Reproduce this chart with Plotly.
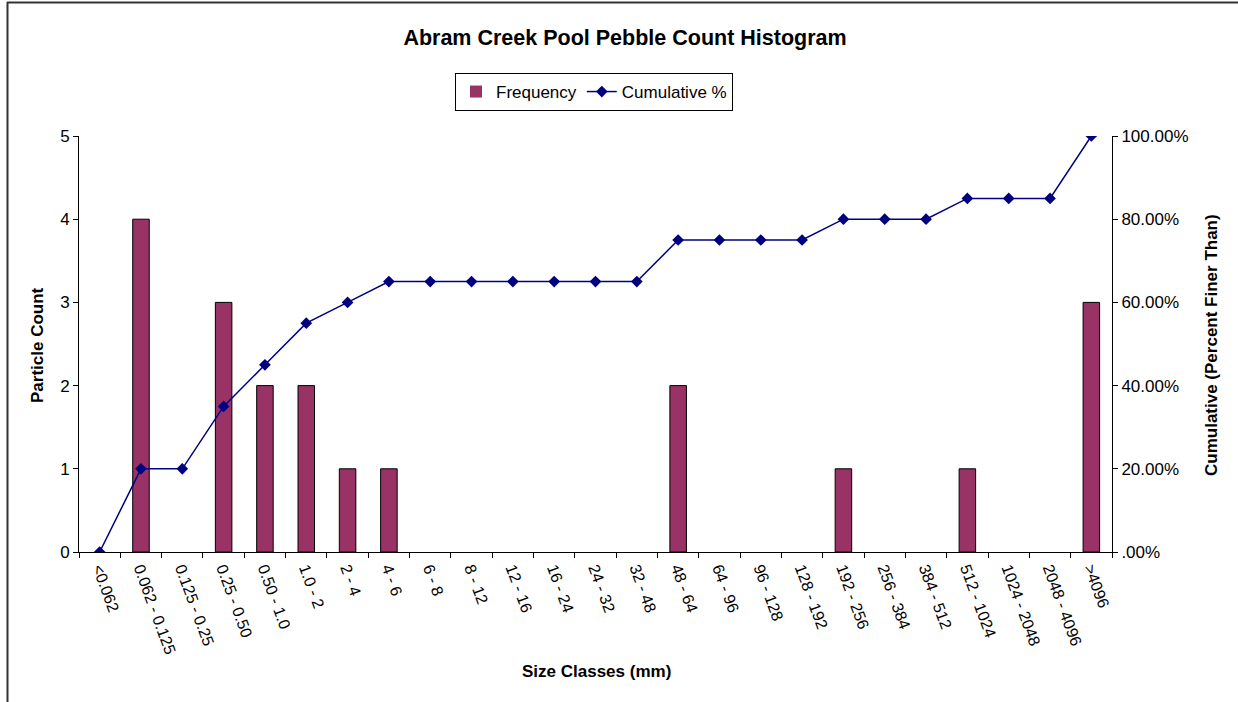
import plotly.graph_objects as go

categories = ["<0.062", "0.062 - 0.125", "0.125 - 0.25", "0.25 - 0.50", "0.50 - 1.0",
              "1.0 - 2", "2 - 4", "4 - 6", "6 - 8", "8 - 12", "12 - 16", "16 - 24",
              "24 - 32", "32 - 48", "48 - 64", "64 - 96", "96 - 128", "128 - 192",
              "192 - 256", "256 - 384", "384 - 512", "512 - 1024", "1024 - 2048",
              "2048 - 4096", ">4096"]
frequency = [0, 4, 0, 3, 2, 2, 1, 1, 0, 0, 0, 0, 0, 0, 2, 0, 0, 0, 1, 0, 0, 1, 0, 0, 3]
cumulative_pct = [0, 20, 20, 35, 45, 55, 60, 65, 65, 65, 65, 65, 65, 65, 75, 75, 75, 75,
                  80, 80, 80, 85, 85, 85, 100]
y2_tickvals = [0, 20, 40, 60, 80, 100]
y2_ticktext = [".00%", "20.00%", "40.00%", "60.00%", "80.00%", "100.00%"]

FONT = "Liberation Sans, Arial, sans-serif"
W, H = 1238, 702
L, R, T, B = 79, 126, 136, 150
PW, PH = W - L - R, H - T - B

def px(x):
    return (x - L) / PW

def py(y):
    return (H - B - y) / PH

# hide outline on empty (zero-count) bars
bar_line_widths = [1 if v > 0 else 0 for v in frequency]

fig = go.Figure()
fig.add_trace(go.Bar(
    x=categories, y=frequency, name="Frequency",
    marker=dict(color="#993366", line=dict(color="black", width=bar_line_widths)),
    yaxis="y",
))
fig.add_trace(go.Scatter(
    x=categories, y=cumulative_pct, name="Cumulative %",
    mode="lines+markers",
    line=dict(color="#000080", width=1.5),
    marker=dict(symbol="diamond", size=9, color="#000080"),
    yaxis="y2",
))

fig.update_layout(
    width=W, height=H,
    margin=dict(l=L, r=R, t=T, b=B, autoexpand=False),
    paper_bgcolor="white", plot_bgcolor="white",
    font=dict(family=FONT, size=16, color="black"),
    bargap=0.6,
    showlegend=True,
    title=dict(text="<b>Abram Creek Pool Pebble Count Histogram</b>",
               x=625 / W, xanchor="center", y=1 - 37 / H, yanchor="middle",
               font=dict(family=FONT, size=21.5, color="black")),
    legend=dict(orientation="h", x=px(594), xanchor="center", y=py(73), yanchor="top",
                bordercolor="black", borderwidth=1, bgcolor="white",
                font=dict(family=FONT, size=17, color="black")),
    xaxis=dict(type="category", showline=True, linecolor="black", linewidth=1,
               ticks="outside", ticklen=5, tickcolor="black", tickson="boundaries",
               tickangle=70, showgrid=False, zeroline=False,
               tickfont=dict(family=FONT, size=16), range=[-0.5, 24.5]),
    yaxis=dict(range=[0, 5], dtick=1, showline=True, linecolor="black", linewidth=1,
               ticks="outside", ticklen=5, tickcolor="black", showgrid=False,
               zeroline=False, tickfont=dict(family=FONT, size=17)),
    yaxis2=dict(range=[0, 100], overlaying="y", side="right", tickvals=y2_tickvals,
                ticktext=y2_ticktext, showline=True, linecolor="black", linewidth=1,
                ticks="outside", ticklen=5, tickcolor="black", showgrid=False,
                zeroline=False, tickfont=dict(family=FONT, size=17)),
    annotations=[
        dict(text="<b>Particle Count</b>", x=px(37), y=py(345), xref="paper", yref="paper",
             textangle=-90, showarrow=False, xanchor="center", yanchor="middle",
             font=dict(family=FONT, size=17)),
        dict(text="<b>Cumulative (Percent Finer Than)</b>", x=px(1211), y=py(345),
             xref="paper", yref="paper", textangle=-90, showarrow=False,
             xanchor="center", yanchor="middle", font=dict(family=FONT, size=17)),
        dict(text="<b>Size Classes (mm)</b>", x=px(596), y=py(671), xref="paper",
             yref="paper", showarrow=False, xanchor="center", yanchor="middle",
             font=dict(family=FONT, size=17)),
    ],
    shapes=[
        dict(type="line", xref="paper", yref="paper", x0=px(7.5), x1=px(7.5),
             y0=py(2), y1=py(H + 5), line=dict(color="#333333", width=2)),
        dict(type="line", xref="paper", yref="paper", x0=px(7), x1=px(W + 5),
             y0=py(2.5), y1=py(2.5), line=dict(color="#333333", width=2)),
    ],
)

fig.write_html("out.html",
               config={"displayModeBar": False},
               post_script="document.body.style.margin='0px';document.body.style.overflow='hidden';")
